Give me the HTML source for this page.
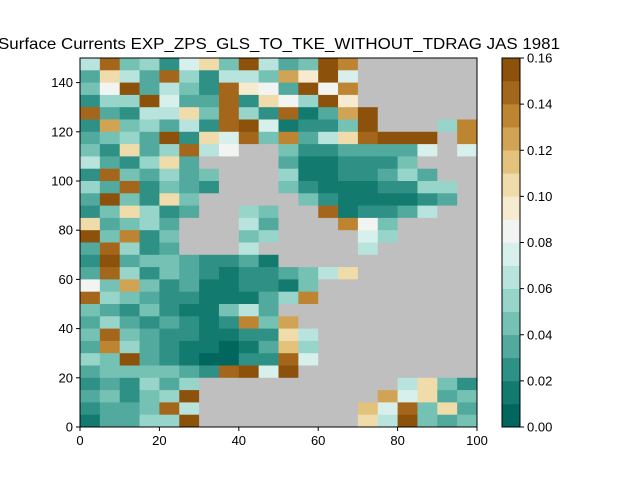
<!DOCTYPE html>
<html><head><meta charset="utf-8"><style>
body{margin:0;background:#fff;}
svg{display:block;font-family:"Liberation Sans",sans-serif;}
</style></head><body>
<svg id="chart" width="640" height="480" viewBox="0 0 640 480">
<text x="279" y="49" font-size="16" text-anchor="middle" textLength="562" lengthAdjust="spacingAndGlyphs">Surface Currents EXP_ZPS_GLS_TO_TKE_WITHOUT_TDRAG JAS 1981</text>
<g id="cells"></g>
<rect x="80" y="58" width="397" height="369" fill="none" stroke="#000" stroke-width="1"/>
<g id="axes"></g>
<g id="cbar"></g>
</svg>
<script>
// grid rows from top (y=150) down, 20 cols of 5 units; '.' = land, hex = speed level (x0.01)
const rows = [
"6e4527a4f634fd......",
"3a63e52664c9f7......",
"48f3642e983f8d......",
"255f733e2a85f9......",
"e3266a4e52e13cf.....",
"2c45362ef71224f...5d",
"3453f2a7e4d36aefff.d",
"42a35e68..42233337.7",
"6325a3....3112224...",
"2e43534...51122353..",
"53e2432...421112255.",
"3f42a4.....42111123.",
"24a523..54..e12236..",
"a3453...63...d84....",
"f4d24...45....75....",
"3e523...6.....6.....",
"2f34432231..........",
"3e52432122346a......",
"84c423112214........",
"e5432211135d........",
"4324211463..........",
"35323212d4c.........",
"4e43221122a6........",
"3d53211013b5........",
"54f3210022e7........",
"3444432ef7f.........",
"232535..........6a42",
"34245f.........c7a34",
"2334e6........b7e4a3",
"13355f........a6f434"
];
const levelColors = ["#01665e","#137a70","#2f9185","#52aa9e","#75c2b5","#97d4c9","#b8e4dd","#d8f0ec","#f2f4f2","#f6ead0","#efdcaa","#e3c27c","#d1a455","#bd8431","#a4661a","#8c510a"];
const cbTicks = [0,0.02,0.04,0.06,0.08,0.10,0.12,0.14,0.16];
const xTicks = [0,20,40,60,80,100];
const yTicks = [0,20,40,60,80,100,120,140];
const landColor = "#bfbfbf";

const px0=80,px1=477,py0=427,py1=58;
const X=v=>px0+(v/100)*(px1-px0);
const Y=v=>py0-(v/150)*(py0-py1);
const NS="http://www.w3.org/2000/svg";
function mk(tag,attrs,parent){const e=document.createElementNS(NS,tag);for(const k in attrs)e.setAttribute(k,attrs[k]);parent.appendChild(e);return e;}

const cells=document.getElementById('cells');
rows.forEach((row,r)=>{
  for(let c=0;c<row.length;c++){
    const ch=row[c];
    const x0=X(c*5),x1=X(c*5+5),yT=Y(150-r*5),yB=Y(150-r*5-5);
    const fill = ch==='.'?landColor:levelColors[parseInt(ch,16)];
    const rc=mk('rect',{x:x0,y:yT,width:x1-x0+0.4,height:yB-yT+0.4,fill:fill},cells);
    
    
  }
});

const axes=document.getElementById('axes');
xTicks.forEach(t=>{
  const l=mk('line',{x1:X(t),x2:X(t),y1:py0,y2:py0+4,stroke:'#000'},axes);
  
  
  const tx=mk('text',{x:X(t),y:py0+18,'font-size':13,'text-anchor':'middle'},axes);
  tx.textContent=t;
  
  
});
yTicks.forEach(t=>{
  const l=mk('line',{x1:px0-4,x2:px0,y1:Y(t),y2:Y(t),stroke:'#000'},axes);
  
  
  const tx=mk('text',{x:px0-7,y:Y(t)+4.5,'font-size':13,'text-anchor':'end'},axes);
  tx.textContent=t;
  
  
});

const cb=document.getElementById('cbar');
const cx0=502,cx1=520,cy0=427,cy1=58;
const CY=v=>cy0-(v/0.16)*(cy0-cy1);
levelColors.forEach((col,i)=>{
  const r=mk('rect',{x:cx0,y:CY((i+1)*0.01),width:cx1-cx0,height:CY(i*0.01)-CY((i+1)*0.01)+0.3,fill:col},cb);
  
  
});
const fr=mk('rect',{x:cx0,y:cy1,width:cx1-cx0,height:cy0-cy1,fill:'none',stroke:'#000'},cb);


cbTicks.forEach(t=>{
  const l=mk('line',{x1:cx1,x2:cx1+4,y1:CY(t),y2:CY(t),stroke:'#000'},cb);
  
  
  const tx=mk('text',{x:cx1+7,y:CY(t)+4.5,'font-size':13},cb);
  tx.textContent=t.toFixed(2);
  
  
});
</script>
</body></html>
